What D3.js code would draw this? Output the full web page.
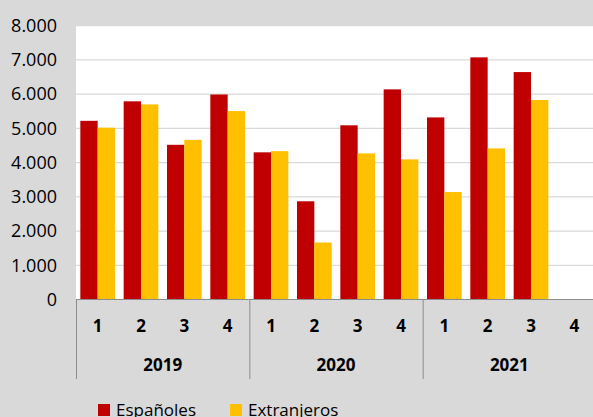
<!DOCTYPE html>
<html lang="es">
<head>
  <meta charset="UTF-8" />
  <title>Españoles / Extranjeros por trimestre</title>
  <script src="https://d3js.org/d3.v7.min.js"></script>
  <style>
    body { margin: 0; background: #d9d9d9; }
    svg { display: block; font-family: "Open Sans", sans-serif; }
  </style>
</head>
<body>
  <div id="chart"></div>

  <script>
    const years = ["2019", "2020", "2021"];
    const quarters = ["1", "2", "3", "4"];
    const espanoles = [5220, 5790, 4520, 5990, 4300, 2870, 5090, 6140, 5320, 7075, 6645, null];
    const extranjeros = [5020, 5700, 4665, 5505, 4335, 1665, 4270, 4095, 3140, 4415, 5830, null];
    const yTicks = [0, 1000, 2000, 3000, 4000, 5000, 6000, 7000, 8000];
    const seriesNames = ["Españoles", "Extranjeros"];
    const colors = ["#c00000", "#ffc000"];

    const width = 593, height = 417;
    const plotLeft = 76, plotRight = 596, plotTop = 25.7, plotBottom = 299.5;

    const cats = years.flatMap(y => quarters.map(q => y + "-" + q));
    const series = [espanoles, extranjeros];

    const svg = d3.select("#chart").append("svg")
      .attr("width", width)
      .attr("height", height);

    svg.append("rect")
      .attr("width", width).attr("height", height)
      .attr("fill", "#d9d9d9");

    const x = d3.scaleBand().domain(cats).range([plotLeft, plotRight])
      .paddingInner(0.2).paddingOuter(0.1);
    const x1 = d3.scaleBand().domain([0, 1]).range([0, x.bandwidth()]);
    const y = d3.scaleLinear().domain([0, 8000]).range([plotBottom, plotTop]);

    // plot area
    svg.append("rect")
      .attr("x", plotLeft).attr("y", plotTop)
      .attr("width", plotRight - plotLeft).attr("height", plotBottom - plotTop)
      .attr("fill", "#fff");

    // gridlines
    svg.append("g")
      .selectAll("line")
      .data(yTicks.slice(1))
      .join("line")
      .attr("x1", plotLeft).attr("x2", plotRight)
      .attr("y1", d => y(d)).attr("y2", d => y(d))
      .attr("stroke", "#d9d9d9")
      .attr("stroke-width", 1.3);

    // y labels
    const fmt = d3.formatLocale({ decimal: ",", thousands: ".", grouping: [3], currency: ["", "€"] }).format(",");
    svg.append("g")
      .selectAll("text")
      .data(yTicks)
      .join("text")
      .attr("x", 57)
      .attr("y", d => y(d))
      .attr("dy", "0.35em")
      .attr("text-anchor", "end")
      .attr("font-size", 18)
      .attr("fill", "#000")
      .text(d => fmt(d));

    // bars
    series.forEach((vals, s) => {
      svg.append("g")
        .selectAll("rect")
        .data(cats.map((c, i) => ({ c, v: vals[i] })).filter(d => d.v != null))
        .join("rect")
        .attr("x", d => x(d.c) + x1(s))
        .attr("y", d => y(d.v))
        .attr("width", x1.bandwidth())
        .attr("height", d => y(0) - y(d.v))
        .attr("fill", colors[s]);
    });

    // category axis
    const axis = svg.append("g").attr("stroke", "#8c8c8c").attr("stroke-width", 1);
    axis.append("line")
      .attr("x1", plotLeft).attr("x2", plotRight)
      .attr("y1", plotBottom).attr("y2", plotBottom);
    const groupW = x.step() * quarters.length;
    axis.selectAll(".div")
      .data(d3.range(years.length + 1))
      .join("line")
      .attr("x1", i => plotLeft + i * groupW + 0.5)
      .attr("x2", i => plotLeft + i * groupW + 0.5)
      .attr("y1", plotBottom)
      .attr("y2", 379);

    svg.append("g")
      .selectAll("text")
      .data(cats)
      .join("text")
      .attr("x", d => x(d) + x.bandwidth() / 2)
      .attr("y", 326)
      .attr("dy", "0.35em")
      .attr("text-anchor", "middle")
      .attr("font-size", 17)
      .attr("font-weight", "bold")
      .text(d => d.split("-")[1]);

    svg.append("g")
      .selectAll("text")
      .data(years)
      .join("text")
      .attr("x", (d, i) => plotLeft + (i + 0.5) * groupW)
      .attr("y", 365)
      .attr("dy", "0.35em")
      .attr("text-anchor", "middle")
      .attr("font-size", 17)
      .attr("font-weight", "bold")
      .text(d => d);

    // legend
    const legX = [98, 230];
    const leg = svg.append("g")
      .selectAll("g")
      .data(seriesNames)
      .join("g")
      .attr("transform", (d, i) => `translate(${legX[i]},404)`);
    leg.append("rect")
      .attr("width", 12).attr("height", 12)
      .attr("fill", (d, i) => colors[i]);
    leg.append("text")
      .attr("x", 18)
      .attr("y", 11.5)
      .attr("font-size", 17)
      .text(d => d);
  </script>
</body>
</html>
